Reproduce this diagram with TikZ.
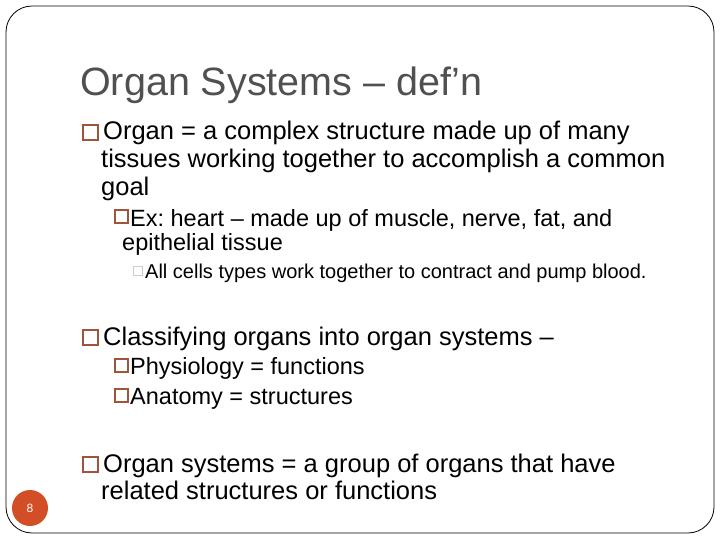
\documentclass[tikz,border=0pt]{standalone}
\usepackage{fontspec}
\setmainfont{Liberation Sans}
\frenchspacing
\begin{document}
\begin{tikzpicture}[x=1pt,y=-1pt,
  bl/.style={draw=bulletc,line width=1.6pt,minimum width=#1,minimum height=#1,inner sep=0pt,outer sep=0pt,anchor=north west},
  tx/.style={anchor=base west,inner sep=0pt},
  l1/.style={tx,font=\fontsize{25.5}{29}\selectfont},
  l2/.style={tx,font=\fontsize{23.5}{27}\selectfont},
  l3/.style={tx,font=\fontsize{20}{23}\selectfont}]
\definecolor{bulletc}{HTML}{A0553A}
\definecolor{pagec}{HTML}{D24E26}
\definecolor{titlec}{HTML}{505050}
\useasboundingbox (0,0) rectangle (720,540);
\draw[rounded corners=26pt,line width=0.8pt] (6,6) rectangle (714,533);
\node[tx,font=\fontsize{39.5}{44}\selectfont,text=titlec] (title) at (80,96) {Organ Systems – def’n};
\node[bl=15pt] (b1) at (83,125) {};
\node[l1] (t1a) at (103,140) {Organ = a complex structure made up of many};
\node[l1] (t1b) at (101,168) {tissues working together to accomplish a common};
\node[l1] (t1c) at (101,196) {goal};
\node[bl=13pt,line width=1.4pt] (b2) at (115,210) {};
\node[l2] (t2a) at (130,226) {Ex: heart – made up of muscle, nerve, fat, and};
\node[l2] (t2b) at (122,251) {epithelial tissue};
\node[bl=9pt,draw=gray!40,line width=0.8pt] (b3) at (133,266) {};
\node[l3] (t3) at (145,278) {All cells types work together to contract and pump blood.};
\node[bl=15pt] (b4) at (83,330) {};
\node[l1] (t4) at (103,345) {Classifying organs into organ systems –};
\node[bl=13pt,line width=1.4pt] (b5) at (115,359) {};
\node[l2] (t5) at (130,374) {Physiology = functions};
\node[bl=13pt,line width=1.4pt] (b6) at (115,389) {};
\node[l2] (t6) at (130,404) {Anatomy = structures};
\node[bl=15pt] (b7) at (83,457) {};
\node[l1] (t7a) at (103,472) {Organ systems = a group of organs that have};
\node[l1] (t7b) at (101,499) {related structures or functions};
\node[circle,fill=pagec,minimum size=36pt,inner sep=0pt,text=white,font=\fontsize{12}{13}\selectfont] (pg) at (30,508) {8};
\end{tikzpicture}
\end{document}
